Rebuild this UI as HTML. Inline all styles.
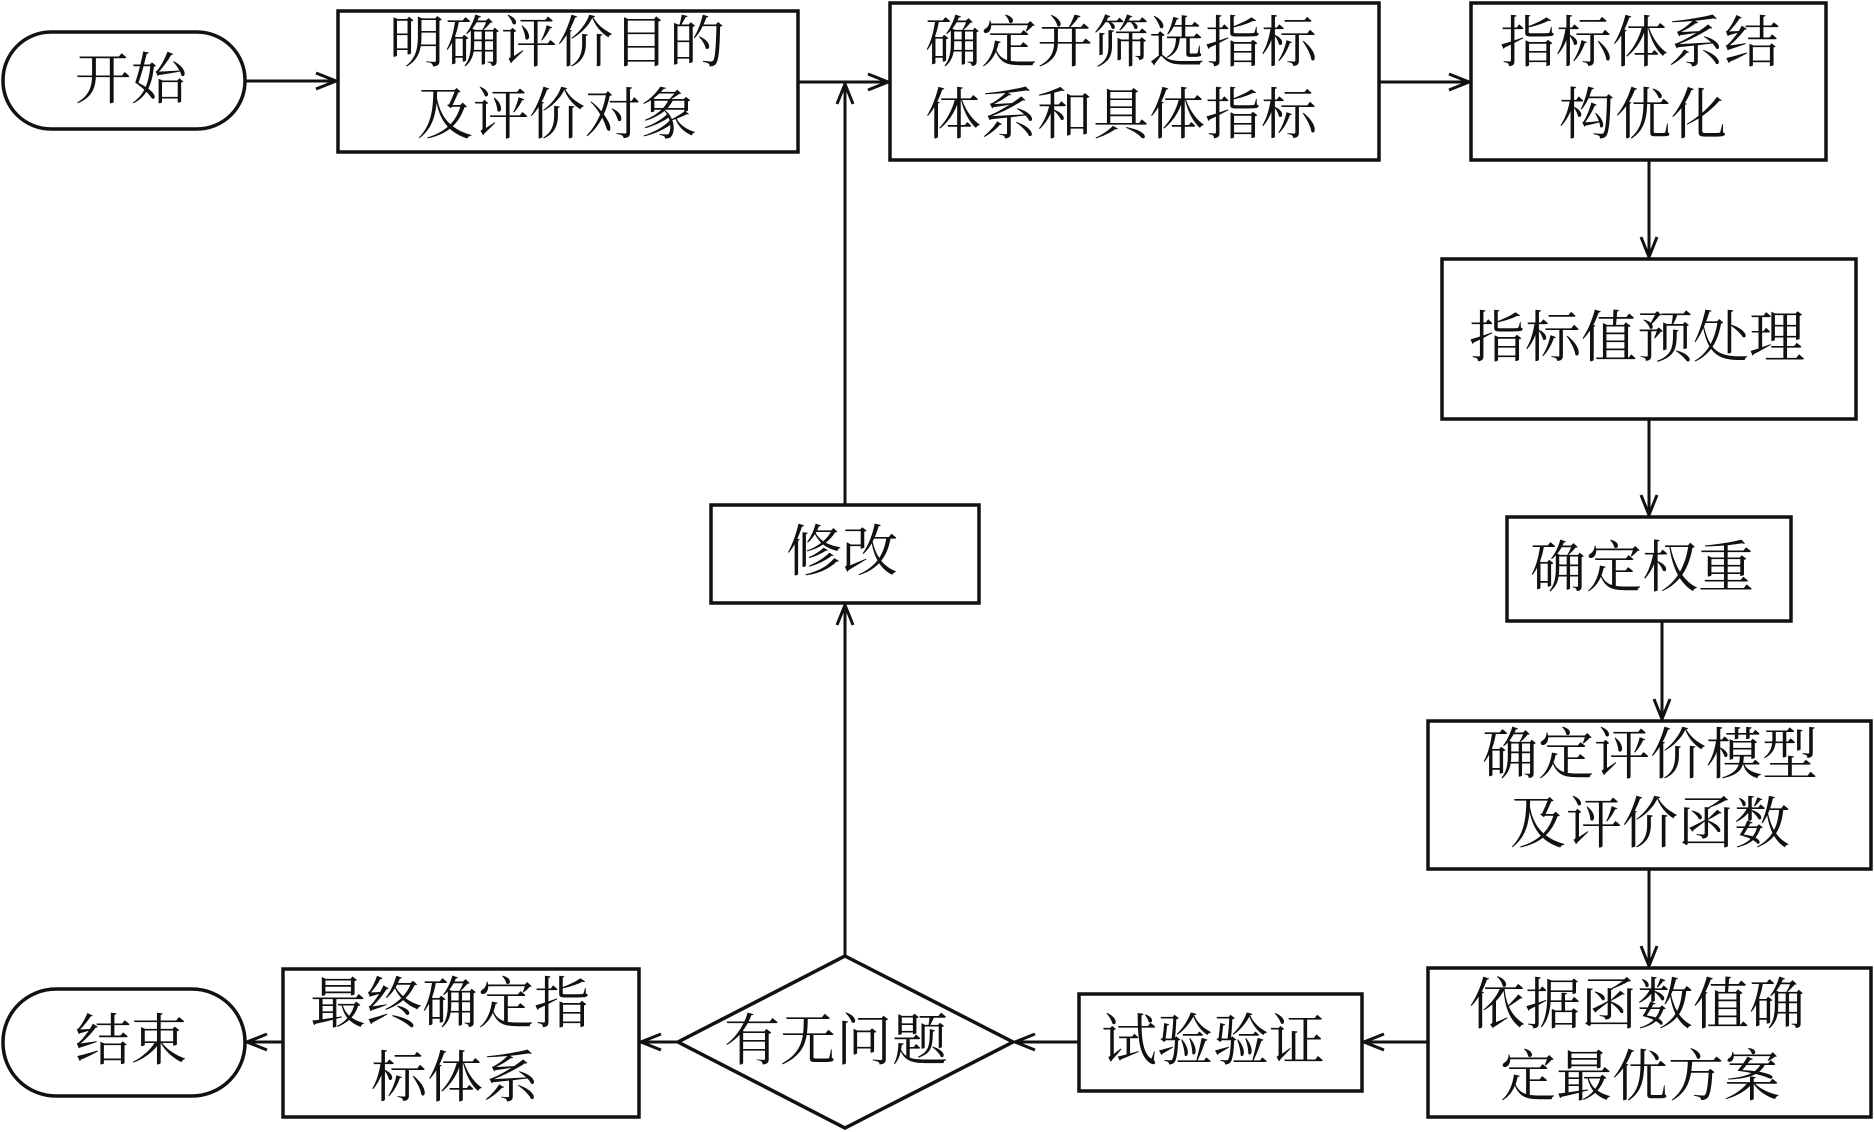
<!DOCTYPE html>
<html><head><meta charset="utf-8"><style>
html,body{margin:0;padding:0;background:#fff;}
svg{display:block;}
text{font-family:"Liberation Serif","Noto Serif CJK SC",serif;font-size:56px;fill:#111;text-anchor:middle;dominant-baseline:central;}
</style></head><body>
<svg width="1874" height="1132" viewBox="0 0 1874 1132" xmlns="http://www.w3.org/2000/svg">
<defs>
<marker id="a" markerWidth="24" markerHeight="20" refX="22" refY="10" orient="auto" markerUnits="userSpaceOnUse">
<path d="M2,2 L22,10 L2,18" fill="none" stroke="#111" stroke-width="3"/>
</marker>
</defs>
<g fill="none" stroke="#111" stroke-width="3.5">
<rect x="3" y="32" width="242" height="97" rx="48"/>
<rect x="338" y="11" width="460" height="141"/>
<rect x="890" y="3" width="489" height="157"/>
<rect x="1471" y="3" width="355" height="157"/>
<rect x="1442" y="259" width="414" height="160"/>
<rect x="1507" y="517" width="284" height="104"/>
<rect x="1428" y="721" width="443" height="148"/>
<rect x="1428" y="968" width="443" height="149"/>
<rect x="1079" y="994" width="283" height="97"/>
<polygon points="845,956 1013,1042 845,1128 678,1042"/>
<rect x="711" y="505" width="268" height="98"/>
<rect x="283" y="969" width="356" height="148"/>
<rect x="3" y="989" width="242" height="107" rx="53"/>
</g>
<g fill="none" stroke="#111" stroke-width="3">
<line x1="245" y1="81" x2="336" y2="81" marker-end="url(#a)"/>
<line x1="798" y1="82" x2="888" y2="82" marker-end="url(#a)"/>
<line x1="1379" y1="82" x2="1469" y2="82" marker-end="url(#a)"/>
<line x1="845" y1="505" x2="845" y2="84" marker-end="url(#a)"/>
<line x1="1649" y1="160" x2="1649" y2="257" marker-end="url(#a)"/>
<line x1="1649" y1="419" x2="1649" y2="515" marker-end="url(#a)"/>
<line x1="1662" y1="621" x2="1662" y2="719" marker-end="url(#a)"/>
<line x1="1649" y1="869" x2="1649" y2="966" marker-end="url(#a)"/>
<line x1="1428" y1="1042" x2="1364" y2="1042" marker-end="url(#a)"/>
<line x1="1079" y1="1042" x2="1015" y2="1042" marker-end="url(#a)"/>
<line x1="845" y1="956" x2="845" y2="605" marker-end="url(#a)"/>
<line x1="678" y1="1042" x2="641" y2="1042" marker-end="url(#a)"/>
<line x1="283" y1="1042" x2="247" y2="1042" marker-end="url(#a)"/>
</g>
<text x="131" y="81">开始</text>
<text x="557" y="44">明确评价目的</text>
<text x="557" y="116">及评价对象</text>
<text x="1121" y="44">确定并筛选指标</text>
<text x="1121" y="116">体系和具体指标</text>
<text x="1640" y="44">指标体系结</text>
<text x="1643" y="116">构优化</text>
<text x="1637" y="339">指标值预处理</text>
<text x="1642" y="569">确定权重</text>
<text x="1650" y="756">确定评价模型</text>
<text x="1650" y="825">及评价函数</text>
<text x="1637" y="1006">依据函数值确</text>
<text x="1640" y="1078">定最优方案</text>
<text x="1213" y="1042">试验验证</text>
<text x="836" y="1042">有无问题</text>
<text x="842" y="553">修改</text>
<text x="450" y="1005">最终确定指</text>
<text x="455" y="1079">标体系</text>
<text x="131" y="1042">结束</text>
</svg>
</body></html>
